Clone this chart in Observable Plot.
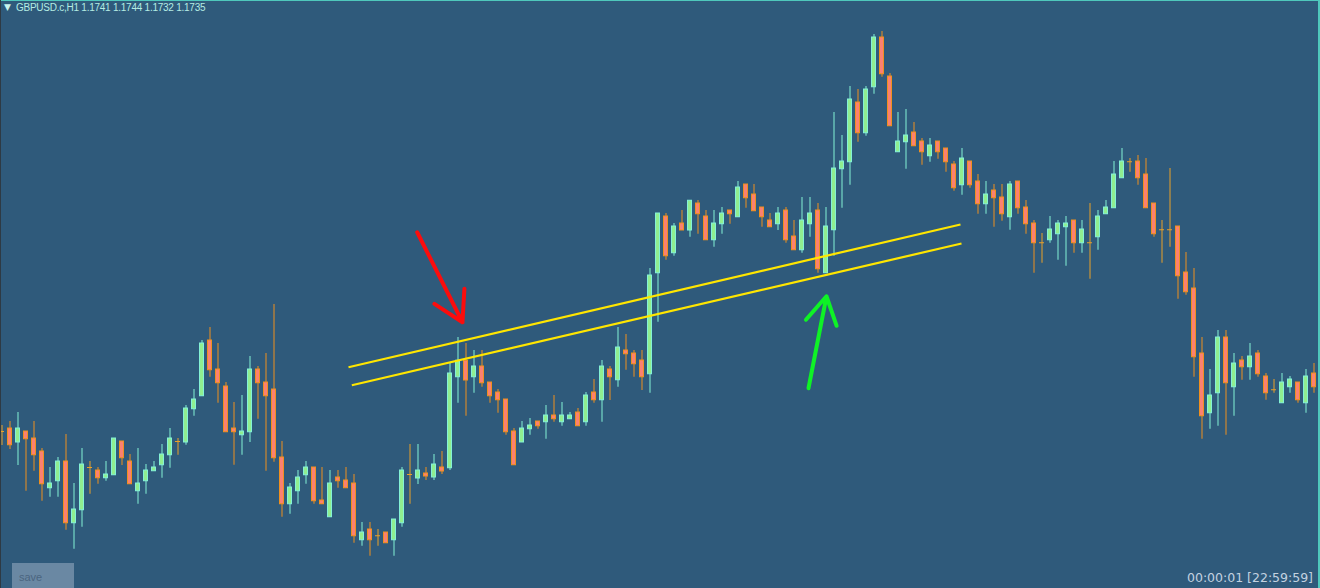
<!DOCTYPE html>
<html><head><meta charset="utf-8">
<script src="https://cdn.jsdelivr.net/npm/d3@7"></script>
<script src="https://cdn.jsdelivr.net/npm/@observablehq/plot@0.6"></script>
<style>
html,body{margin:0;padding:0;background:#2f5a7b;overflow:hidden}
#wrap{position:relative;width:1320px;height:588px;overflow:hidden}
#wrap svg{display:block}
#title{position:absolute;left:16px;top:2px;font:10px "Liberation Sans",Arial,sans-serif;letter-spacing:-0.25px;color:#b4ece4;white-space:pre}
#tri{position:absolute;left:4px;top:2px;font:9px "DejaVu Sans",sans-serif;color:#c8f4ee}
#save{position:absolute;left:12px;top:563px;width:62px;height:25px;background:#6a88a3;color:#4b6580;font:11px "Liberation Sans",Arial,sans-serif;line-height:28px;padding-left:7px;box-sizing:border-box}
#timer{position:absolute;right:7px;top:570px;font:12.5px "DejaVu Sans",sans-serif;color:#c3d2e0;white-space:pre}
#topline{position:absolute;left:0;top:0;width:1320px;height:1px;background:#4fc8bc}
#rightline{position:absolute;right:0;top:0;width:2px;height:588px;background:#4fc8bc}
#leftline{position:absolute;left:0;top:0;width:1px;height:588px;background:#2e3a44}
</style></head><body>
<div id="wrap"></div>
<script>
// OHLC values (hourly candles, oldest first)
const open = [
1.17176,1.17188,1.17132,1.17176,1.17148,1.17096,1.16949,1.16977,1.17056,1.16809,
1.16861,1.17032,1.17020,1.16989,1.17001,1.17136,1.17056,1.16937,1.16977,1.17017,
1.17041,1.17081,1.17136,1.17132,1.17265,1.17317,1.17540,1.17424,1.17356,1.17188,
1.17161,1.17173,1.17424,1.17372,1.17344,1.17072,1.16885,1.16937,1.17001,1.17032,
1.16900,1.16833,1.16992,1.16980,1.16968,1.16741,1.16784,1.16759,1.16772,1.16741,
1.16809,1.17004,1.16988,1.17008,1.16992,1.17032,1.17029,1.17393,1.17459,1.17393,
1.17436,1.17372,1.17332,1.17304,1.17176,1.17132,1.17185,1.17216,1.17213,1.17240,
1.17213,1.17225,1.17252,1.17213,1.17332,1.17301,1.17424,1.17381,1.17500,1.17488,
1.17460,1.17405,1.17809,1.18036,1.17889,1.18008,1.17980,1.18088,1.18036,1.17941,
1.18005,1.18060,1.18033,1.18164,1.18124,1.18072,1.18020,1.18005,1.18060,1.17956,
1.17901,1.18005,1.18060,1.17809,1.17981,1.18225,1.18253,1.18492,1.18369,1.18553,
1.18752,1.18596,1.18293,1.18333,1.18372,1.18336,1.18277,1.18336,1.18308,1.18244,
1.18161,1.18256,1.18176,1.18085,1.18140,1.18112,1.18033,1.18176,1.18072,1.18008,
1.17931,1.17941,1.17965,1.17993,1.18020,1.17929,1.17931,1.17953,1.18045,1.18069,
1.18189,1.18255,1.18256,1.18204,1.18088,1.17983,1.17983,1.17996,1.17812,1.17748,
1.17488,1.17249,1.17329,1.17552,1.17353,1.17460,1.17433,1.17488,1.17396,1.17343,
1.17289,1.17353,1.17372,1.17289,1.17408];
const high = [
1.17200,1.17216,1.17252,1.17176,1.17216,1.17108,1.17032,1.17072,1.17164,1.16968,
1.17108,1.17056,1.17032,1.17056,1.17148,1.17136,1.17084,1.17108,1.17044,1.17056,
1.17124,1.17188,1.17148,1.17280,1.17344,1.17540,1.17592,1.17528,1.17372,1.17292,
1.17320,1.17476,1.17436,1.17488,1.17684,1.17136,1.16968,1.17020,1.17056,1.17032,
1.17032,1.17020,1.17020,1.17032,1.17004,1.16812,1.16812,1.16784,1.16772,1.16824,
1.17032,1.17124,1.17124,1.17032,1.17084,1.17096,1.17448,1.17552,1.17528,1.17500,
1.17500,1.17372,1.17344,1.17304,1.17188,1.17216,1.17228,1.17216,1.17280,1.17320,
1.17292,1.17252,1.17268,1.17332,1.17384,1.17460,1.17436,1.17592,1.17564,1.17500,
1.17500,1.17828,1.18048,1.18048,1.18008,1.18060,1.18099,1.18100,1.18060,1.18060,
1.18072,1.18060,1.18176,1.18164,1.18164,1.18072,1.18048,1.18072,1.18072,1.18020,
1.18112,1.18112,1.18088,1.18072,1.18452,1.18360,1.18556,1.18544,1.18556,1.18764,
1.18776,1.18608,1.18452,1.18464,1.18412,1.18348,1.18348,1.18336,1.18308,1.18256,
1.18308,1.18256,1.18204,1.18176,1.18164,1.18164,1.18176,1.18176,1.18100,1.18020,
1.17968,1.18036,1.18020,1.18036,1.18020,1.18020,1.18088,1.18060,1.18100,1.18256,
1.18308,1.18268,1.18280,1.18268,1.18088,1.18020,1.18228,1.17996,1.17892,1.17828,
1.17552,1.17424,1.17580,1.17580,1.17488,1.17476,1.17528,1.17500,1.17408,1.17384,
1.17408,1.17396,1.17372,1.17424,1.17448];
const low = [
1.17120,1.17104,1.17040,1.16937,1.17017,1.16897,1.16913,1.16913,1.16781,1.16705,
1.16793,1.16925,1.16965,1.16977,1.17001,1.17040,1.16965,1.16885,1.16925,1.17017,
1.16989,1.17029,1.17081,1.17121,1.17237,1.17317,1.17393,1.17289,1.17173,1.17041,
1.17081,1.17132,1.17225,1.17017,1.17053,1.16833,1.16845,1.16885,1.16965,1.16885,
1.16885,1.16833,1.16949,1.16949,1.16729,1.16717,1.16677,1.16717,1.16729,1.16677,
1.16793,1.16885,1.16964,1.16980,1.16980,1.17004,1.17020,1.17289,1.17237,1.17329,
1.17353,1.17289,1.17249,1.17161,1.17041,1.17132,1.17161,1.17185,1.17145,1.17213,
1.17197,1.17225,1.17197,1.17197,1.17289,1.17213,1.17300,1.17353,1.17421,1.17393,
1.17340,1.17329,1.17613,1.17861,1.17877,1.17980,1.17953,1.17965,1.17941,1.17913,
1.17965,1.18005,1.18033,1.18069,1.18057,1.17993,1.17993,1.17980,1.17929,1.17901,
1.17889,1.17953,1.17809,1.17809,1.17877,1.18069,1.18161,1.18333,1.18357,1.18525,
1.18593,1.18397,1.18293,1.18225,1.18317,1.18241,1.18253,1.18265,1.18213,1.18137,
1.18121,1.18149,1.18045,1.18045,1.17993,1.18017,1.17981,1.18045,1.17965,1.17809,
1.17849,1.17929,1.17861,1.17837,1.17889,1.17889,1.17785,1.17901,1.18045,1.18069,
1.18189,1.18213,1.18161,1.18069,1.17953,1.17849,1.17913,1.17705,1.17721,1.17393,
1.17145,1.17185,1.17197,1.17161,1.17237,1.17381,1.17381,1.17393,1.17301,1.17329,
1.17289,1.17329,1.17289,1.17249,1.17329];
const close = [
1.17176,1.17121,1.17188,1.17145,1.17081,1.16965,1.16968,1.17056,1.16809,1.16864,
1.17044,1.17032,1.16989,1.17004,1.17148,1.17069,1.16965,1.16968,1.17020,1.17032,
1.17084,1.17148,1.17136,1.17268,1.17304,1.17528,1.17421,1.17369,1.17173,1.17173,
1.17176,1.17424,1.17369,1.17317,1.17069,1.16885,1.16952,1.16992,1.17032,1.16897,
1.16885,1.16968,1.16977,1.16949,1.16757,1.16772,1.16741,1.16759,1.16729,1.16824,
1.17020,1.17004,1.17020,1.16996,1.17044,1.17016,1.17408,1.17459,1.17380,1.17436,
1.17369,1.17317,1.17301,1.17173,1.17041,1.17188,1.17200,1.17197,1.17240,1.17225,
1.17240,1.17240,1.17197,1.17320,1.17301,1.17436,1.17393,1.17512,1.17485,1.17445,
1.17393,1.17800,1.18048,1.17877,1.17996,1.17980,1.18099,1.18045,1.17941,1.18008,
1.18048,1.18045,1.18152,1.18109,1.18057,1.18033,1.17993,1.18048,1.17941,1.17901,
1.18020,1.18048,1.17825,1.17996,1.18228,1.18256,1.18504,1.18369,1.18544,1.18752,
1.18605,1.18397,1.18336,1.18360,1.18317,1.18293,1.18320,1.18293,1.18253,1.18149,
1.18268,1.18161,1.18085,1.18124,1.18109,1.18045,1.18164,1.18069,1.18005,1.17929,
1.17931,1.17984,1.18008,1.18008,1.17929,1.17984,1.17931,1.18036,1.18072,1.18204,
1.18256,1.18255,1.18189,1.18069,1.17965,1.17983,1.17983,1.17797,1.17733,1.17473,
1.17237,1.17320,1.17552,1.17369,1.17448,1.17433,1.17476,1.17405,1.17329,1.17343,
1.17372,1.17384,1.17301,1.17396,1.17353];

// Texts
const symbolLabel = "GBPUSD.c,H1";
const lastQuote = ["1.1741", "1.1744", "1.1732", "1.1735"];
const timerLabel = "00:00:01 [22:59:59]";
const saveLabel = "save";

// Drawn objects (bar index, price)
const channelUpper = [[43.31, 1.17433], [119.81, 1.18004]];
const channelLower = [[43.73, 1.17361], [119.94, 1.17928]];
const redArrow = [[51.9, 1.17973], [57.56, 1.17613]];
const greenArrow = [[100.81, 1.17349], [103.06, 1.17717]];

const candles = open.map((o, i) => ({i, open: o, high: high[i], low: low[i], close: close[i]}));
const bodies = candles.filter(d => d.open !== d.close);
const dojis = candles.filter(d => d.open === d.close);
const seg = (a) => ({x1: a[0][0], y1: a[0][1], x2: a[1][0], y2: a[1][1]});

const BULL_FILL = "#90ee90", BULL_LINE = "#84f2d6";
const BEAR_FILL = "#fa8072", BEAR_LINE = "#f0901e";
const DOJI = "#eba128";

const chart = Plot.plot({
  width: 1320, height: 588, margin: 0,
  x: {domain: [-0.1875, 164.8125], axis: null},
  y: {domain: [1.16548, 1.18900], axis: null},
  color: {type: "identity"},
  style: {background: "#2f5a7b", overflow: "visible"},
  marks: [
    Plot.ruleX(candles, {x: "i", y1: "low", y2: "high", strokeWidth: 1,
      stroke: d => d.close > d.open ? BULL_LINE : (d.close < d.open ? BEAR_LINE : DOJI)}),
    Plot.rect(bodies, {x1: d => d.i - 0.25, x2: d => d.i + 0.25, y1: "open", y2: "close", strokeWidth: 1,
      fill: d => d.close > d.open ? BULL_FILL : BEAR_FILL,
      stroke: d => d.close > d.open ? BULL_LINE : BEAR_LINE}),
    Plot.ruleY(dojis, {x1: d => d.i - 0.3125, x2: d => d.i + 0.3125, y: "open", stroke: DOJI, strokeWidth: 1}),
    Plot.link([seg(channelUpper), seg(channelLower)], {x1: "x1", y1: "y1", x2: "x2", y2: "y2", stroke: "#ffe600", strokeWidth: 2.2}),
    Plot.arrow([seg(redArrow)], {x1: "x1", y1: "y1", x2: "x2", y2: "y2", stroke: "#fb0d0d", strokeWidth: 4, headAngle: 60, headLength: 13, strokeLinecap: "round", strokeLinejoin: "round"}),
    Plot.arrow([seg(greenArrow)], {x1: "x1", y1: "y1", x2: "x2", y2: "y2", stroke: "#0ff226", strokeWidth: 4, headAngle: 60, headLength: 12, strokeLinecap: "round", strokeLinejoin: "round"})
  ]
});

const wrap = document.getElementById("wrap");
wrap.appendChild(chart);
const add = (id, text) => { const e = document.createElement("div"); e.id = id; if (text) e.textContent = text; wrap.appendChild(e); };
add("tri", "\u25BC");
add("title", symbolLabel + " " + lastQuote.join(" "));
add("save", saveLabel);
add("timer", timerLabel);
add("topline"); add("rightline"); add("leftline");
</script>
</body></html>
